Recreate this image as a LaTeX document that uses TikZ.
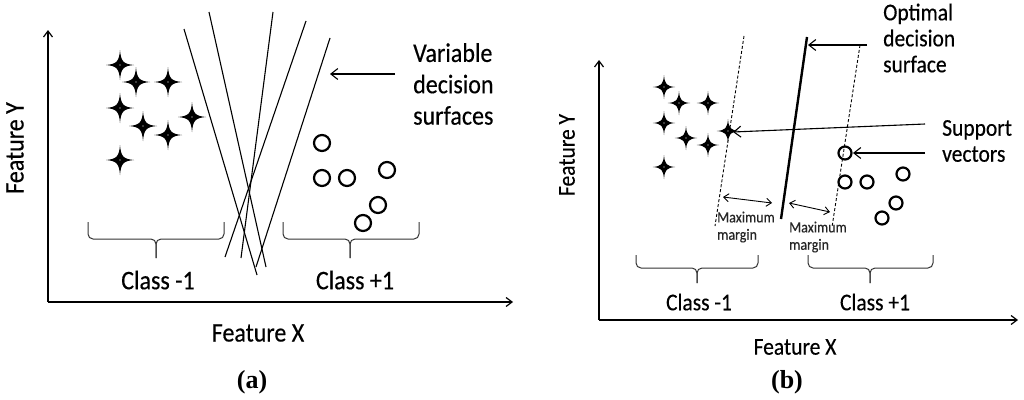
\documentclass[tikz,border=0pt]{standalone}
\usepackage{fontspec}
\setmainfont{Carlito}
\newfontfamily\lblfont{Carlito}[FakeBold=0.4]
\newfontfamily\capfont{Liberation Serif}
\usetikzlibrary{arrows.meta}
\tikzset{
  axisline/.style={line width=1.2pt,-{Straight Barb[length=6pt,width=9pt,line width=1.2pt]}},
  pointer/.style={line width=1.1pt,-{Straight Barb[length=7pt,width=11pt,line width=1.1pt]}},
  marginarrow/.style={line width=0.9pt,{Straight Barb[length=5pt,width=8pt]}-{Straight Barb[length=5pt,width=8pt]}},
  surface/.style={line width=1.1pt},
  optimal/.style={line width=2.4pt},
  marginline/.style={line width=0.9pt,dash pattern=on 3pt off 2pt},
  bracepath/.style={line width=1pt,black!80,rounded corners=5pt},
  dot/.style={line width=2.2pt},
  biglabel/.style={inner sep=0pt,yscale=1.12,font=\lblfont\fontsize{24}{28}\selectfont},
  medlabel/.style={inner sep=0pt,yscale=1.12,font=\lblfont\fontsize{21.5}{23.2}\selectfont},
  smalllabel/.style={inner sep=0pt,yscale=1.12,text=black!85,font=\lblfont\fontsize{14}{15.5}\selectfont},
  caption/.style={inner sep=0pt,font=\capfont\bfseries\fontsize{26}{30}\selectfont},
  pics/sparkle/.style={code={
    \fill (0,-15) .. controls (0.9,-3.5) and (3.5,-0.9) .. (14,0)
      .. controls (3.5,0.9) and (0.9,3.5) .. (0,15)
      .. controls (-0.9,3.5) and (-3.5,0.9) .. (-14,0)
      .. controls (-3.5,-0.9) and (-0.9,-3.5) .. (0,-15) -- cycle;
    \fill[white] (0,0) circle (0.7pt);
  }}
}
\begin{document}
\begin{tikzpicture}[x=1pt,y=-1pt]
\useasboundingbox (0,0) rectangle (1024,399);

% ================= panel (a) =================
\coordinate (aO) at (48,302);
\coordinate (aYtop) at (48,30);
\coordinate (aXend) at (513,302);
\draw[axisline] (aO) -- (aYtop);
\draw[axisline] (aO) -- (aXend);
\node[rotate=90,biglabel] (aFY) at (15,148) {Feature Y};
\node[biglabel] (aFX) at (258,333) {Feature X};
\node[caption] (acap) at (252,382) {(a)};

% stars
\foreach \p in {(120,65),(136,82),(168,82),(120,108),(143,126),(168,135),(192,117),(120,160)}
  \pic at \p {sparkle};
% circles
\foreach \p in {(322,143),(322,178),(347,178),(387,170),(378,205),(363,223)}
  \draw[dot] \p circle (8pt);

% decision surfaces
\draw[surface] (184,29) -- (257,275);
\draw[surface] (209,12) -- (266,267);
\draw[surface] (273,12) -- (241,258);
\draw[surface] (306,21) -- (225,257);
\draw[surface] (330,38) -- (256,267);

% braces
\draw[bracepath] (88,222) -- (88,239) -- (156,239) -- (156,258);
\draw[bracepath] (156,258) -- (156,239) -- (224,239) -- (224,222);
\draw[bracepath] (283,222) -- (283,239) -- (350,239) -- (350,258);
\draw[bracepath] (350,258) -- (350,239) -- (419,239) -- (419,222);
\node[biglabel] (aC1) at (158,280) {Class -1};
\node[biglabel] (aC2) at (355,280) {Class +1};

% label
\node[biglabel,align=left,anchor=west] (avds) at (413,84) {Variable\\decision\\surfaces};
\coordinate (avdsA) at (395,74);
\coordinate (avdsB) at (330,74);
\draw[pointer] (avdsA) -- (avdsB);

% ================= panel (b) =================
\coordinate (bO) at (599,320);
\coordinate (bYtop) at (599,60);
\coordinate (bXend) at (1018,320);
\draw[axisline] (bO) -- (bYtop);
\draw[axisline] (bO) -- (bXend);
\node[rotate=90,medlabel] (bFY) at (567,155) {Feature Y};
\node[medlabel] (bFX) at (795,347) {Feature X};
\node[caption] (bcap) at (787,382) {(b)};

\foreach \p in {(664,87),(679,103),(708,103),(664,123),(686,138),(708,145),(728,131),(664,167)}
  \pic[scale=0.8] at \p {sparkle};
\foreach \p in {(845,153),(845,182),(867,182),(903,174),(896,203),(882,218)}
  \draw[dot] \p circle (6.5pt);

% margins and optimal surface
\draw[marginline] (744,36) -- (715,226);
\draw[marginline] (860,45) -- (832,227);
\coordinate (optTop) at (807,37);
\coordinate (optBot) at (781,219);
\draw[optimal] (optTop) -- (optBot);

\coordinate (mA1) at (723,197); \coordinate (mA2) at (772,203);
\coordinate (mB1) at (789,203); \coordinate (mB2) at (830,212);
\draw[marginarrow] (mA1) -- (mA2);
\draw[marginarrow] (mB1) -- (mB2);
\node[smalllabel,align=left,anchor=west] (mL1) at (717,227) {Maximum\\margin};
\node[smalllabel,align=left,anchor=west] (mL2) at (789,237) {Maximum\\margin};

% braces
\draw[bracepath] (636,255) -- (636,268) -- (697,268) -- (697,283);
\draw[bracepath] (697,283) -- (697,268) -- (758,268) -- (758,255);
\draw[bracepath] (808,255) -- (808,268) -- (870,268) -- (870,283);
\draw[bracepath] (870,283) -- (870,268) -- (933,268) -- (933,255);
\node[medlabel] (bC1) at (699,302) {Class -1};
\node[medlabel] (bC2) at (875,302) {Class +1};

% labels and pointers
\node[medlabel,align=left,anchor=west] (bods) at (883,38) {Optimal\\decision\\surface};
\coordinate (odsA) at (867,45);
\coordinate (odsB) at (808,45);
\draw[pointer] (odsA) -- (odsB);

\node[medlabel,align=left,anchor=west] (bsv) at (942,141) {Support\\vectors};
\coordinate (sv1A) at (925,124); \coordinate (sv1B) at (733,132);
\coordinate (sv2A) at (925,153); \coordinate (sv2B) at (853,153);
\draw[pointer] (sv1A) -- (sv1B);
\draw[pointer] (sv2A) -- (sv2B);
\end{tikzpicture}
\end{document}
